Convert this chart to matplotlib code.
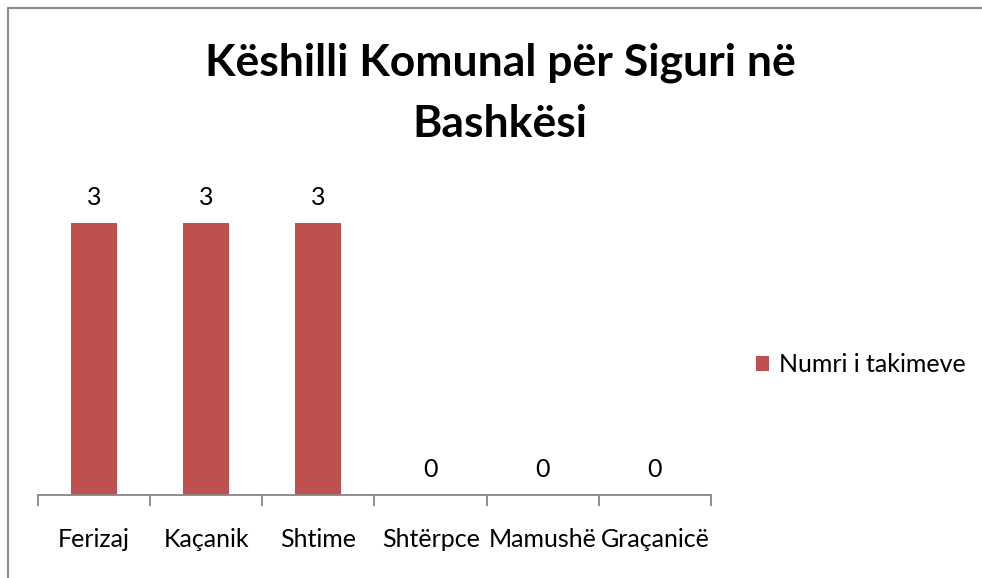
import numpy as np
import matplotlib.pyplot as plt
from matplotlib.patches import Rectangle

plt.rcParams["font.family"] = ["Lato", "DejaVu Sans"]

title = "Këshilli Komunal për Siguri në\nBashkësi"
categories = ["Ferizaj", "Kaçanik", "Shtime", "Shtërpce", "Mamushë", "Graçanicë"]
values = [3, 3, 3, 0, 0, 0]
series_name = "Numri i takimeve"

bar_color = "#C0504D"
axis_color = "#868686"

fig = plt.figure(figsize=(9.82, 5.78), dpi=100)
W, H = 982, 578

# outer chart border (cut by the image edge at right and bottom)
fig.patches.append(Rectangle((8 / W, -0.1), 1.2, 1 - 8 / H + 0.1,
                             transform=fig.transFigure, fill=False,
                             edgecolor="#8c8c8c", linewidth=1.5))

ax = fig.add_axes([38 / W, 1 - 495 / H, (711 - 38) / W, (495 - 178) / H])
x = np.arange(len(categories))
bars = ax.bar(x, values, width=0.41, color=bar_color, label=series_name)

ax.set_xlim(-0.5, len(categories) - 0.5)
ax.set_ylim(0, 3.5)
ax.set_yticks([])
for s in ["top", "right", "left"]:
    ax.spines[s].set_visible(False)
ax.spines["bottom"].set_color(axis_color)
ax.spines["bottom"].set_linewidth(1.3)

ax.set_xticks(x)
ax.set_xticklabels(categories, fontsize=18)
ax.tick_params(axis="x", which="major", length=0, pad=24)
ax.set_xticks(np.arange(len(categories) + 1) - 0.5, minor=True)
ax.tick_params(axis="x", which="minor", length=8, width=1.3, color=axis_color)

for b, v in zip(bars, values):
    ax.annotate(f"{v}", (b.get_x() + b.get_width() / 2, v),
                xytext=(0, 10), textcoords="offset points",
                ha="center", va="bottom", fontsize=18)

fig.text(500 / W, 1 - 93 / H, title, ha="center", va="center",
         fontsize=32, fontweight="bold", linespacing=1.65)

fig.legend(handles=[bars], labels=[series_name], loc="center left",
           bbox_to_anchor=(733 / W, 1 - 365 / H), frameon=False,
           fontsize=18, handlelength=0.55, handleheight=0.55,
           handletextpad=0.4)

fig.savefig("out.png", dpi=100)
